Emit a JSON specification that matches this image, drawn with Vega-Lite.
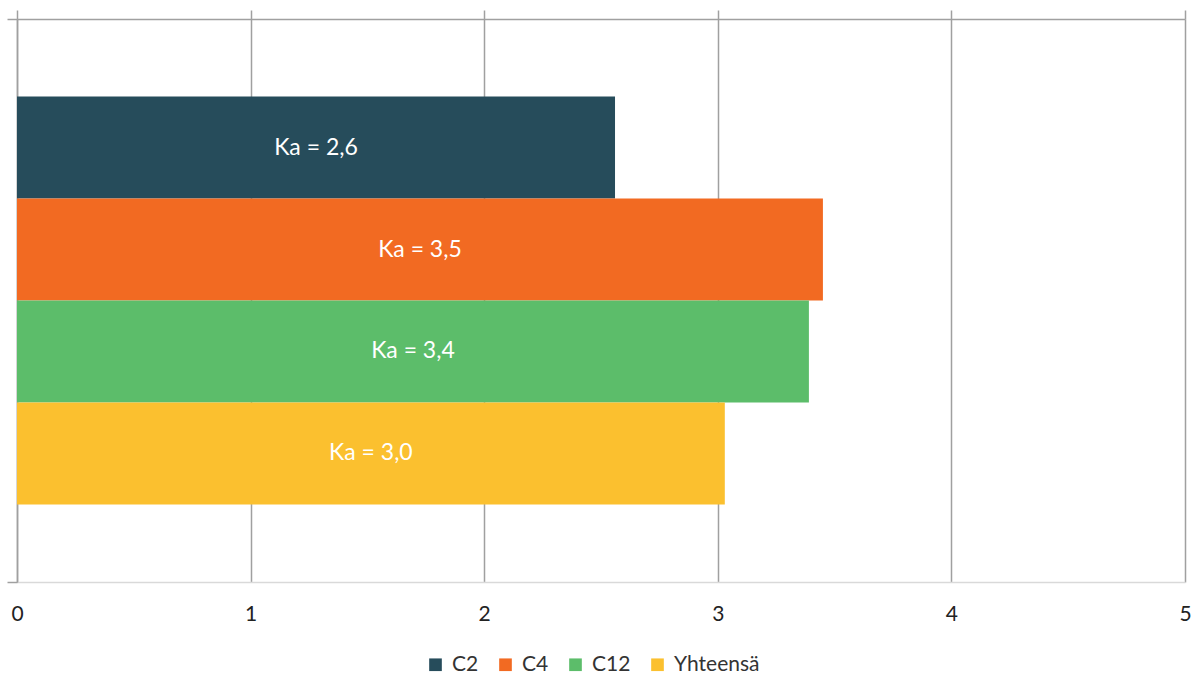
{
  "$schema": "https://vega.github.io/schema/vega-lite/v6.json",
  "width": 1168,
  "height": 563,
  "autosize": {"type": "none"},
  "padding": {"left": 17, "top": 19, "right": 11, "bottom": 95},
  "config": {"view": {"stroke": null}, "font": "Lato"},
  "data": {
    "values": [
      {"g": "A", "series": "C2", "value": 2.56, "label": "Ka = 2,6"},
      {"g": "A", "series": "C4", "value": 3.45, "label": "Ka = 3,5"},
      {"g": "A", "series": "C12", "value": 3.39, "label": "Ka = 3,4"},
      {"g": "A", "series": "Yhteensä", "value": 3.03, "label": "Ka = 3,0"}
    ]
  },
  "resolve": {"scale": {"x": "independent"}, "axis": {"x": "independent"}},
  "encoding": {
    "y": {
      "field": "g",
      "type": "nominal",
      "scale": {"paddingInner": 0, "paddingOuter": 0},
      "axis": {
        "labels": false,
        "title": null,
        "ticks": true,
        "tickBand": "extent",
        "tickSize": 10,
        "tickColor": "#a0a0a0",
        "tickWidth": 1.5,
        "domainColor": "#a0a0a0",
        "domainWidth": 1.5,
        "grid": false
      }
    },
    "yOffset": {
      "field": "series",
      "type": "nominal",
      "sort": ["C2", "C4", "C12", "Yhteensä"],
      "scale": {"paddingInner": 0, "paddingOuter": 0.76}
    }
  },
  "layer": [
    {
      "mark": {"type": "bar"},
      "encoding": {
        "x": {
          "field": "value",
          "type": "quantitative",
          "scale": {"domain": [0, 5], "nice": false},
          "axis": {
            "orient": "bottom",
            "title": null,
            "values": [0, 1, 2, 3, 4, 5],
            "grid": true,
            "gridColor": "#a0a0a0",
            "gridWidth": 1.5,
            "ticks": false,
            "domainColor": "#d9d9d9",
            "domainWidth": 1.5,
            "labelFontSize": 21,
            "labelColor": "#222222",
            "labelPadding": 21,
            "labelFlush": false
          }
        },
        "color": {
          "field": "series",
          "type": "nominal",
          "sort": ["C2", "C4", "C12", "Yhteensä"],
          "scale": {
            "domain": ["C2", "C4", "C12", "Yhteensä"],
            "range": ["#264C5B", "#F26A22", "#5CBD6A", "#FBC02F"]
          },
          "legend": {
            "orient": "none",
            "legendX": 408,
            "legendY": 635,
            "direction": "horizontal",
            "title": null,
            "symbolType": "square",
            "symbolSize": 160,
            "symbolStrokeWidth": 0,
            "labelFontSize": 21,
            "labelColor": "#333333",
            "labelOffset": 6,
            "columnPadding": 16
          }
        }
      }
    },
    {
      "mark": {"type": "text", "color": "white", "fontSize": 23, "align": "center"},
      "encoding": {
        "x": {
          "field": "value",
          "type": "quantitative",
          "scale": {"domain": [0, 10], "nice": false, "zero": true},
          "axis": null
        },
        "text": {"field": "label"}
      }
    },
    {
      "mark": {"type": "rule", "opacity": 0},
      "encoding": {
        "x": {
          "field": "value",
          "type": "quantitative",
          "scale": {"domain": [0, 5], "nice": false},
          "axis": {
            "orient": "top",
            "title": null,
            "labels": false,
            "values": [0, 1, 2, 3, 4, 5],
            "grid": false,
            "ticks": true,
            "tickSize": 9,
            "tickColor": "#a0a0a0",
            "tickWidth": 1.5,
            "domainColor": "#a0a0a0",
            "domainWidth": 1.5
          }
        }
      }
    }
  ]
}
